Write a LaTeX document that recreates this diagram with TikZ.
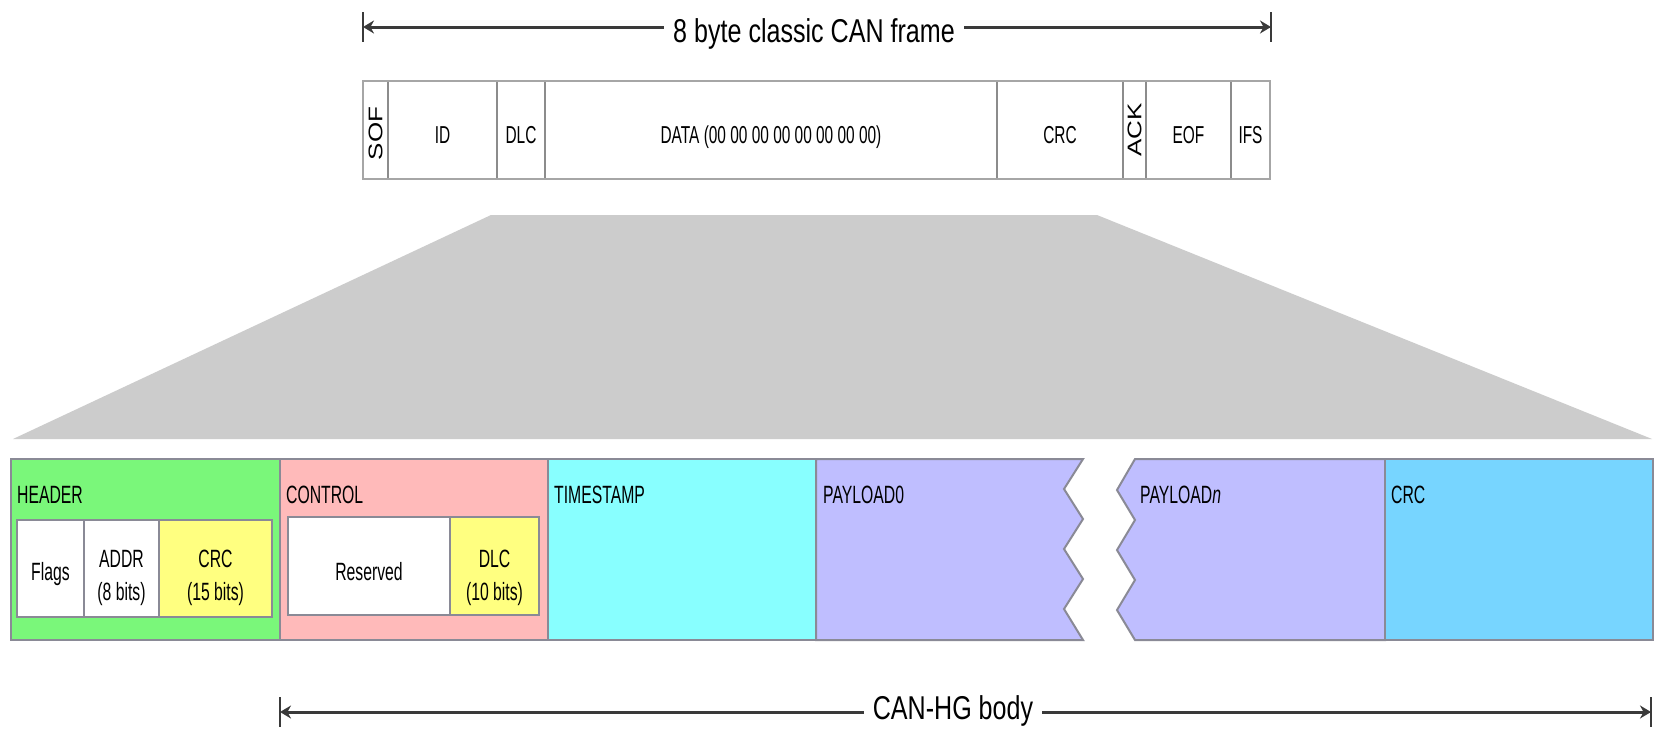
\documentclass[tikz,border=0pt]{standalone}
\usepackage{graphicx}
\usepackage{fontspec}
\setmainfont{Liberation Sans}
\newfontfamily\narrowsans[FakeStretch=0.63]{Liberation Sans}
\newfontfamily\dimsans[FakeStretch=0.76]{Liberation Sans}
\usetikzlibrary{arrows.meta}

\definecolor{hdrgreen}{HTML}{7AF77A}
\definecolor{ctlpink}{HTML}{FFBABA}
\definecolor{tscyan}{HTML}{88FFFF}
\definecolor{plviolet}{HTML}{BFBEFF}
\definecolor{crcblue}{HTML}{77D5FF}
\definecolor{fldyellow}{HTML}{FFFF80}
\definecolor{fanout}{HTML}{CCCCCC}
\definecolor{cellgray}{HTML}{8C8C8C}
\definecolor{frameedge}{HTML}{A6A6A6}
\definecolor{stripedge}{HTML}{8A8A96}
\definecolor{arrowgray}{HTML}{3A3A3A}

\begin{document}
\begin{tikzpicture}[x=1pt, y=-1pt,
  framecell/.style={draw=cellgray, line width=1.2pt, minimum height=98pt,
    anchor=north west, inner sep=0pt, outer sep=0pt},
  stripcell/.style={draw=stripedge, line width=2pt, minimum height=181pt,
    anchor=north west, inner sep=0pt, outer sep=0pt},
  fieldbox/.style={draw=stripedge, line width=2pt,
    anchor=north west, inner sep=0pt, outer sep=0pt},
  framelbl/.style={font=\narrowsans\fontsize{24.5}{30}\selectfont,
    anchor=base, inner sep=0pt},
  sidelbl/.style={inner sep=0pt},
  striplbl/.style={font=\narrowsans\fontsize{25}{30}\selectfont,
    anchor=base west, inner sep=0pt},
  fieldlbl/.style={font=\narrowsans\fontsize{25}{30}\selectfont,
    anchor=base, inner sep=0pt},
  dimline/.style={draw=arrowgray, line width=3pt,
    {Stealth[length=11pt,width=13pt]}-{Stealth[length=11pt,width=13pt]}},
  dimbar/.style={draw=arrowgray, line width=1.6pt},
  dimlbl/.style={font=\dimsans\fontsize{33}{40}\selectfont, fill=white,
    inner xsep=9pt, inner ysep=2pt, anchor=base},
]
\useasboundingbox (0,0) rectangle (1654,737);
\fill[white] (0,0) rectangle (1654,737);

% ---------- dimension line above the classic frame ----------
\coordinate (tl) at (363,27);
\coordinate (tr) at (1271,27);
\draw[dimline] (tl) -- (tr);
\draw[dimbar] ([yshift=15pt]tl) -- ([yshift=-15pt]tl);
\draw[dimbar] ([yshift=15pt]tr) -- ([yshift=-15pt]tr);
\node[dimlbl] (title) at (814,42) {8 byte classic CAN frame};

% ---------- classic CAN frame ----------
\node[framecell, minimum width=25pt]  (sof)  at (363,81)  {};
\node[framecell, minimum width=109pt] (id)   at (388,81)  {};
\node[framecell, minimum width=48pt]  (dlc)  at (497,81)  {};
\node[framecell, minimum width=452pt] (data) at (545,81)  {};
\node[framecell, minimum width=126pt] (crc)  at (997,81)  {};
\node[framecell, minimum width=23pt]  (ack)  at (1123,81) {};
\node[framecell, minimum width=85pt]  (eof)  at (1146,81) {};
\node[framecell, minimum width=39pt]  (ifs)  at (1231,81) {};
\draw[draw=frameedge, line width=2.5pt] (sof.north west) rectangle (ifs.south east);

\coordinate (fb) at (0,143);
\node[sidelbl] (soflbl) at ([yshift=-3.5pt]sof.center)
  {\scalebox{0.76}[1]{\fontsize{26}{30}\selectfont\rotatebox{90}{SOF}}};
\node[framelbl] (idlbl)   at (id.center |- fb)   {ID};
\node[framelbl] (dlclbl)  at (dlc.center |- fb)  {DLC};
\node[framelbl] (datalbl) at (data.center |- fb) {DATA (00 00 00 00 00 00 00 00)};
\node[framelbl] (crclbl)  at (crc.center |- fb)  {CRC};
\node[sidelbl] (acklbl) at (ack.center)
  {\scalebox{0.76}[1]{\fontsize{26}{30}\selectfont\rotatebox{90}{ACK}}};
\node[framelbl] (eoflbl)  at (eof.center |- fb)  {EOF};
\node[framelbl] (ifslbl)  at (ifs.center |- fb)  {IFS};

% ---------- fan-out from the data field ----------
\fill[fanout] (491,215) -- (1097,215) -- (1652,439) -- (13,439) -- cycle;

% ---------- CAN-HG body ----------
\node[stripcell, fill=hdrgreen, minimum width=269pt] (header)    at (11,459)  {};
\node[stripcell, fill=ctlpink,  minimum width=268pt] (control)   at (280,459) {};
\node[stripcell, fill=tscyan,   minimum width=268pt] (timestamp) at (548,459) {};
\filldraw[fill=plviolet, draw=stripedge, line width=2pt]
  (816,459) -- (1083,459) -- (1064,489) -- (1083,519) -- (1064,549)
  -- (1083,579) -- (1064,609) -- (1083,640) -- (816,640) -- cycle;
\filldraw[fill=plviolet, draw=stripedge, line width=2pt]
  (1135,459) -- (1385,459) -- (1385,640) -- (1135,640) -- (1117,610)
  -- (1135,580) -- (1117,550) -- (1135,520) -- (1117,490) -- cycle;
\node[stripcell, fill=crcblue, minimum width=268pt] (bodycrc) at (1385,459) {};

\node[striplbl] (headerlbl)  at (17,503)   {HEADER};
\node[striplbl] (controllbl) at (286,503)  {CONTROL};
\node[striplbl] (tslbl)      at (554,503)  {TIMESTAMP};
\node[striplbl] (pl0lbl)     at (823,503)  {PAYLOAD0};
\node[striplbl] (plnlbl)     at (1140,503) {PAYLOAD\textit{n}};
\node[striplbl] (crcbodylbl) at (1391,503) {CRC};

% header sub-fields
\node[fieldbox, fill=white,     minimum width=67pt,  minimum height=97pt] (flags) at (17,520)  {};
\node[fieldbox, fill=white,     minimum width=75pt,  minimum height=97pt] (addr)  at (84,520)  {};
\node[fieldbox, fill=fldyellow, minimum width=113pt, minimum height=97pt] (hcrc)  at (159,520) {};
% control sub-fields
\node[fieldbox, fill=white,     minimum width=162pt, minimum height=98pt] (resv)  at (288,517) {};
\node[fieldbox, fill=fldyellow, minimum width=89pt,  minimum height=98pt] (cdlc)  at (450,517) {};

\coordinate (one) at (0,580);
\coordinate (upper) at (0,567);
\coordinate (lower) at (0,600);
\node[fieldlbl] (flagslbl) at (flags.center |- one)  {Flags};
\node[fieldlbl] (addrlbl)  at (addr.center |- upper) {ADDR};
\node[fieldlbl] (addrbits) at (addr.center |- lower) {(8 bits)};
\node[fieldlbl] (hcrclbl)  at (hcrc.center |- upper) {CRC};
\node[fieldlbl] (hcrcbits) at (hcrc.center |- lower) {(15 bits)};
\node[fieldlbl] (resvlbl)  at (resv.center |- one)   {Reserved};
\node[fieldlbl] (cdlclbl)  at (cdlc.center |- upper) {DLC};
\node[fieldlbl] (cdlcbits) at (cdlc.center |- lower) {(10 bits)};

% ---------- dimension line below the body ----------
\coordinate (bl) at (280,712);
\coordinate (br) at (1651,712);
\draw[dimline] (bl) -- (br);
\draw[dimbar] ([yshift=15pt]bl) -- ([yshift=-15pt]bl);
\draw[dimbar] ([yshift=15pt]br) -- ([yshift=-15pt]br);
\node[dimlbl] (bodylbl) at (953,719) {CAN-HG body};
\end{tikzpicture}
\end{document}
